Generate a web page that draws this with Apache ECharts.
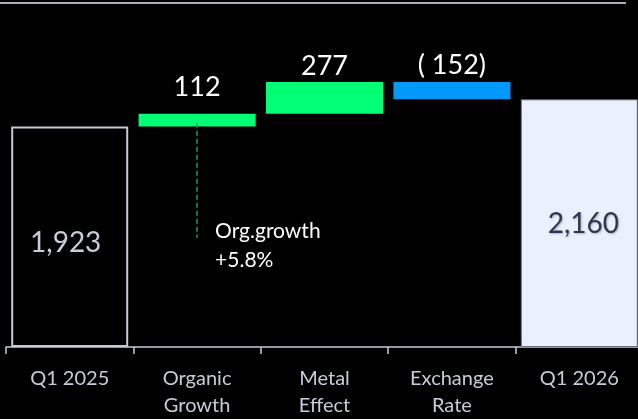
<!DOCTYPE html>
<html>
<head>
<meta charset="utf-8">
<script src="https://cdn.jsdelivr.net/npm/echarts@6/dist/echarts.min.js"></script>
<style>
  html, body { margin: 0; padding: 0; background: #000; overflow: hidden; }
  #chart { width: 650px; height: 419px; }
</style>
</head>
<body>
<div id="chart"></div>
<script>
// Revenue bridge: opening quarter, drivers, closing quarter
const categories = ['Q1 2025', 'Organic\nGrowth', 'Metal\nEffect', 'Exchange\nRate', 'Q1 2026'];
const openingValue = 1923;
const driverChanges = [112, 277, -152];
const closingValue = 2160;
const driverLabels = ['112', '277', '( 152)'];
const organicNote = ['Org.growth', '+5.8%'];

// Invisible base under each floating bar and the visible segment on top
const baseValues = [0];
const segmentValues = [openingValue];
let running = openingValue;
driverChanges.forEach(function (d) {
  const next = running + d;
  baseValues.push(Math.min(running, next));
  segmentValues.push(Math.abs(d));
  running = next;
});
baseValues.push(0);
segmentValues.push(closingValue);

const GREEN = '#03ff76';
const BLUE = '#0399fb';
const AXIS = '#c5cad6';
const FONT = 'Lato';

const labelDist = [0, 11, 1, 2, 0];

const segmentData = segmentValues.map(function (v, i) {
  const item = { value: v };
  if (i === 0) {
    item.itemStyle = { color: '#000', borderColor: AXIS, borderWidth: 2 };
    item.label = {
      show: true, position: 'inside', formatter: '1,923',
      color: '#c8cdd9', fontSize: 28, fontFamily: FONT, offset: [-4, 6]
    };
  } else if (i === segmentValues.length - 1) {
    item.itemStyle = { color: '#eaf0fd', borderColor: '#6a7082', borderWidth: 1 };
    item.label = {
      show: true, position: 'inside', formatter: '2,160',
      color: '#2e3850', fontSize: 28, fontFamily: FONT, offset: [4, 1],
      textShadowColor: 'rgba(0,0,0,0.25)', textShadowBlur: 2, textShadowOffsetX: 1, textShadowOffsetY: 1
    };
  } else {
    const d = driverChanges[i - 1];
    item.itemStyle = { color: d >= 0 ? GREEN : BLUE };
    item.label = {
      show: true, position: 'top', distance: labelDist[i],
      formatter: driverLabels[i - 1],
      color: '#ffffff', fontSize: 27, fontFamily: FONT, lineHeight: 30
    };
  }
  return item;
});

const chart = echarts.init(document.getElementById('chart'), null, { renderer: 'canvas' });
chart.setOption({
  backgroundColor: '#000000',
  animation: false,
  grid: { left: 6, top: 3, width: 637, height: 344, containLabel: false },
  xAxis: {
    type: 'category',
    data: categories,
    axisLine: { show: true, lineStyle: { color: AXIS, width: 1.5 } },
    axisTick: { show: true, length: 7, lineStyle: { color: AXIS, width: 1.5 } },
    axisLabel: {
      color: '#c8ccd8', fontSize: 20, fontFamily: FONT, lineHeight: 27, margin: 18,
      interval: 0
    }
  },
  yAxis: {
    type: 'value', min: 0, max: 3000,
    show: false, splitLine: { show: false }
  },
  graphic: [{
    type: 'line',
    shape: { x1: 0, y1: 3, x2: 626, y2: 3 },
    style: { stroke: '#a9adb9', lineWidth: 2 }
  }],
  series: [
    {
      name: 'base', type: 'bar', stack: 'bridge', barWidth: 117,
      data: baseValues,
      itemStyle: { color: 'transparent' },
      silent: true
    },
    {
      name: 'segment', type: 'bar', stack: 'bridge', barWidth: 117,
      data: segmentData,
      markLine: {
        silent: true, symbol: 'none',
        lineStyle: { color: '#0aa552', type: [5, 3], width: 1.5 },
        label: { show: false },
        data: [[
          { coord: [categories[1], 1955] },
          { coord: [categories[1], 950] }
        ]]
      },
      markPoint: {
        silent: true, symbol: 'circle', symbolSize: 0,
        data: [{ coord: [categories[1], 880] }],
        label: {
          show: true, position: 'right', distance: 18, align: 'left',
          formatter: organicNote.join('\n'),
          color: '#ffffff', fontSize: 21, fontFamily: FONT, lineHeight: 29
        }
      }
    }
  ]
});
</script>
</body>
</html>
